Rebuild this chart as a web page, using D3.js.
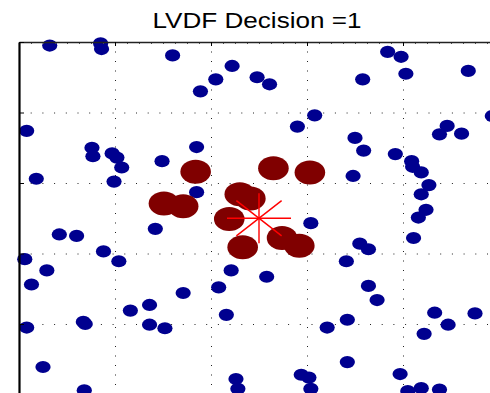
<!DOCTYPE html>
<html lang="en">
<head>
<meta charset="UTF-8">
<title>LVDF Decision</title>
<script src="https://cdn.jsdelivr.net/npm/d3@7"></script>
<style>
  body { margin: 0; background: #fff; }
  svg { display: block; }
</style>
</head>
<body>
<svg width="490" height="393"></svg>
<script>
    // data, in axis units
    var titleText = 'LVDF Decision =1';
    var xTicks = [0, 1, 2, 3, 4, 5];
    var yTicks = [0, 1, 2, 3, 4, 5];
    // training points of class 0 (blue)
    var bluePoints = [
        [0.32,4.95],[0.85,4.98],[0.86,4.90],[1.60,4.81],[2.22,4.66],[2.05,4.47],[1.89,4.30],
        [0.08,3.74],[0.76,3.50],[0.77,3.38],[0.97,3.42],[1.02,3.36],[1.07,3.22],[1.49,3.31],
        [1.85,3.51],[0.18,3.06],[0.99,3.02],[1.85,2.87],[2.48,4.50],[2.61,4.40],[3.84,4.86],
        [3.98,4.79],[4.03,4.55],[3.58,4.47],[4.68,4.59],[4.93,3.95],[3.08,3.96],[2.90,3.80],
        [3.50,3.64],[3.59,3.46],[3.92,3.41],[4.09,3.31],[4.10,3.23],[4.19,3.15],[4.46,3.81],
        [4.38,3.69],[4.61,3.70],[3.48,3.10],[4.27,2.97],[4.19,2.84],[1.42,2.35],[0.42,2.27],
        [0.60,2.25],[0.88,2.03],[1.04,1.89],[0.06,1.92],[0.29,1.76],[0.13,1.56],[1.71,1.44],
        [1.36,1.27],[1.16,1.19],[0.67,1.03],[0.69,1.00],[0.08,0.95],[1.36,0.99],[1.52,0.94],
        [2.21,1.76],[2.08,1.52],[2.16,1.13],[0.25,0.39],[0.68,0.06],[2.26,0.22],[2.28,0.08],
        [3.04,2.43],[3.55,2.14],[3.64,2.06],[3.41,1.89],[2.58,1.67],[3.64,1.54],[3.73,1.34],
        [3.42,1.06],[3.21,0.95],[3.42,0.46],[2.94,0.28],[3.02,0.24],[3.04,0.08],[4.24,2.62],
        [4.16,2.51],[4.11,2.22],[4.33,1.16],[4.47,0.99],[4.22,0.86],[4.75,1.15],[3.97,0.29],
        [4.05,0.05],[4.19,0.09],[4.38,0.07]
    ];
    // nearest neighbours (dark red)
    var redPoints = [
        [1.84,3.16],[2.65,3.21],[3.03,3.15],[1.51,2.71],[1.71,2.67],[2.30,2.84],
        [2.41,2.78],[2.19,2.49],[2.33,2.09],[2.74,2.22],[2.92,2.11]
    ];
    // query point (red star)
    var queryPoint = [2.5, 2.5];

    var svg = d3.select('svg'),
        margin = {top: 42, left: 19},
        width = 480,
        height = 352.5,
        g = svg.append('g').attr('transform', 'translate(' + margin.left + ',' + margin.top + ')');

    var x = d3.scaleLinear().domain([0, 5]).range([0, width]);
    var y = d3.scaleLinear().domain([0, 5]).range([height, 0]);

    // title (the original figure is stretched sideways a little)
    svg.append('text')
        .attr('x', 257)
        .attr('y', 27.5)
        .attr('text-anchor', 'middle')
        .attr('font-family', 'Liberation Sans, Arial, sans-serif')
        .attr('font-size', '22px')
        .attr('textLength', 209)
        .attr('lengthAdjust', 'spacingAndGlyphs')
        .attr('fill', '#000')
        .text(titleText);

    // dotted grid
    var gridX = g.append('g')
        .call(d3.axisBottom(x).tickValues(xTicks.slice(1, -1)).tickSize(height).tickFormat(''));
    gridX.select('.domain').remove();
    gridX.selectAll('line')
        .attr('stroke', '#222')
        .attr('stroke-dasharray', '1,8.5');

    var gridY = g.append('g')
        .call(d3.axisRight(y).tickValues(yTicks.slice(1, -1)).tickSize(width).tickFormat(''));
    gridY.select('.domain').remove();
    gridY.selectAll('line')
        .attr('stroke', '#222')
        .attr('stroke-dasharray', '1,10.7');

    // points
    g.append('g').selectAll('ellipse')
        .data(bluePoints)
        .enter().append('ellipse')
        .attr('cx', function(d){ return x(d[0]); })
        .attr('cy', function(d){ return y(d[1]); })
        .attr('rx', 7.6)
        .attr('ry', 6.1)
        .attr('fill', '#00008f');

    g.append('g').selectAll('ellipse')
        .data(redPoints)
        .enter().append('ellipse')
        .attr('cx', function(d){ return x(d[0]); })
        .attr('cy', function(d){ return y(d[1]); })
        .attr('rx', 15.3)
        .attr('ry', 12)
        .attr('fill', '#800000');

    // star marker
    var sx = 32, sy = 25;
    var arms = [[1, 0], [0, 1], [0.707, 0.707], [0.707, -0.707]];
    g.append('g')
        .attr('transform', 'translate(' + x(queryPoint[0]) + ',' + y(queryPoint[1]) + ')')
        .selectAll('line')
        .data(arms)
        .enter().append('line')
        .attr('x1', function(d){ return -d[0] * sx; })
        .attr('y1', function(d){ return -d[1] * sy; })
        .attr('x2', function(d){ return d[0] * sx; })
        .attr('y2', function(d){ return d[1] * sy; })
        .attr('stroke', '#ff0000')
        .attr('stroke-width', 1.4);

    // axes
    var minor = d3.range(0, 5.001, 0.125);
    var topMinor = g.append('g')
        .call(d3.axisTop(x).tickValues(minor).tickSizeInner(-2).tickSizeOuter(0).tickFormat(''));
    topMinor.select('.domain').remove();
    topMinor.selectAll('line').attr('stroke', '#555');

    var topAxis = g.append('g')
        .call(d3.axisTop(x).tickValues(xTicks).tickSizeInner(-4).tickSizeOuter(0).tickFormat(''));
    topAxis.select('.domain').attr('stroke', '#222').attr('stroke-width', 1.3);

    var leftAxis = g.append('g')
        .call(d3.axisLeft(y).tickValues(yTicks).tickSizeInner(-5).tickSizeOuter(0).tickFormat(''));
    leftAxis.select('.domain').attr('stroke', '#000').attr('stroke-width', 2.2);
    leftAxis.selectAll('line').attr('stroke', '#000');
</script>
</body>
</html>
